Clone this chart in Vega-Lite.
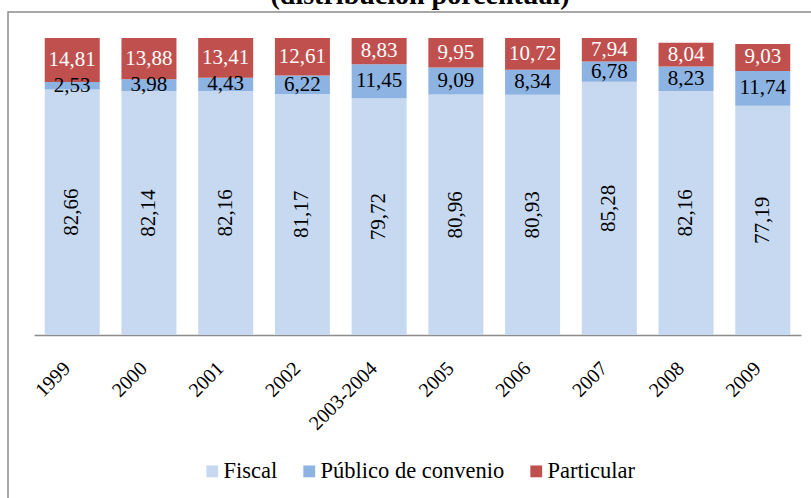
{
  "$schema": "https://vega.github.io/schema/vega-lite/v6.json",
  "autosize": {"type": "none"},
  "padding": {"top": 12, "left": 8, "right": 0, "bottom": 0},
  "width": 824,
  "height": 500,
  "title": {"text": "(distribución porcentual)", "font": "Liberation Serif", "fontSize": 28, "fontWeight": "bold", "color": "#000000", "anchor": "middle", "frame": "group", "offset": 2},
  "config": {
    "font": "Liberation Serif",
    "view": {"stroke": "#8c8c8c", "strokeWidth": 1.5},
    "legend": {"labelFont": "Liberation Serif"},
    "locale": {"number": {"decimal": ",", "thousands": ".", "grouping": [3], "currency": ["", " €"]}}
  },
  "data": {"values": [
    {"anio": "1999", "serie": "Fiscal", "k": 1, "v": 82.66},
    {"anio": "1999", "serie": "Público de convenio", "k": 2, "v": 2.53},
    {"anio": "1999", "serie": "Particular", "k": 3, "v": 14.81},
    {"anio": "2000", "serie": "Fiscal", "k": 1, "v": 82.14},
    {"anio": "2000", "serie": "Público de convenio", "k": 2, "v": 3.98},
    {"anio": "2000", "serie": "Particular", "k": 3, "v": 13.88},
    {"anio": "2001", "serie": "Fiscal", "k": 1, "v": 82.16},
    {"anio": "2001", "serie": "Público de convenio", "k": 2, "v": 4.43},
    {"anio": "2001", "serie": "Particular", "k": 3, "v": 13.41},
    {"anio": "2002", "serie": "Fiscal", "k": 1, "v": 81.17},
    {"anio": "2002", "serie": "Público de convenio", "k": 2, "v": 6.22},
    {"anio": "2002", "serie": "Particular", "k": 3, "v": 12.61},
    {"anio": "2003-2004", "serie": "Fiscal", "k": 1, "v": 79.72},
    {"anio": "2003-2004", "serie": "Público de convenio", "k": 2, "v": 11.45},
    {"anio": "2003-2004", "serie": "Particular", "k": 3, "v": 8.83},
    {"anio": "2005", "serie": "Fiscal", "k": 1, "v": 80.96},
    {"anio": "2005", "serie": "Público de convenio", "k": 2, "v": 9.09},
    {"anio": "2005", "serie": "Particular", "k": 3, "v": 9.95},
    {"anio": "2006", "serie": "Fiscal", "k": 1, "v": 80.93},
    {"anio": "2006", "serie": "Público de convenio", "k": 2, "v": 8.34},
    {"anio": "2006", "serie": "Particular", "k": 3, "v": 10.72},
    {"anio": "2007", "serie": "Fiscal", "k": 1, "v": 85.28},
    {"anio": "2007", "serie": "Público de convenio", "k": 2, "v": 6.78},
    {"anio": "2007", "serie": "Particular", "k": 3, "v": 7.94},
    {"anio": "2008", "serie": "Fiscal", "k": 1, "v": 82.16},
    {"anio": "2008", "serie": "Público de convenio", "k": 2, "v": 8.23},
    {"anio": "2008", "serie": "Particular", "k": 3, "v": 8.04},
    {"anio": "2009", "serie": "Fiscal", "k": 1, "v": 77.19},
    {"anio": "2009", "serie": "Público de convenio", "k": 2, "v": 11.74},
    {"anio": "2009", "serie": "Particular", "k": 3, "v": 9.03}
  ]},
  "transform": [
    {"stack": "v", "groupby": ["anio"], "sort": [{"field": "k", "order": "ascending"}], "as": ["v0", "v1"]},
    {"calculate": "(datum.v0 + datum.v1) / 2", "as": "vm"}
  ],
  "encoding": {
    "x": {
      "field": "anio", "type": "nominal", "sort": null,
      "scale": {"range": [26, 793], "paddingInner": 0.283, "paddingOuter": 0.14},
      "axis": {"title": null, "labelAngle": -45, "labelAlign": "right", "labelBaseline": "middle", "labelPadding": 30, "labelOffset": -5, "labelFont": "Liberation Serif", "labelFontSize": 20, "labelColor": "#000000", "ticks": false, "domainColor": "#8c8c8c", "domainWidth": 1.5, "offset": -177, "grid": false}
    }
  },
  "layer": [
    {
      "mark": {"type": "bar"},
      "encoding": {
        "y": {"field": "v0", "type": "quantitative", "scale": {"domain": [0, 100], "range": [323, 26], "nice": false, "zero": true}, "axis": null},
        "y2": {"field": "v1"},
        "color": {
          "field": "serie", "type": "nominal",
          "scale": {"domain": ["Fiscal", "Público de convenio", "Particular"], "range": ["#C6D9F1", "#8DB3E2", "#C0504D"]},
          "legend": {"orient": "none", "legendX": 193, "legendY": 448, "direction": "horizontal", "title": null, "symbolType": "square", "symbolSize": 140, "symbolStrokeWidth": 0, "labelFont": "Liberation Serif", "labelFontSize": 22.5, "labelColor": "#000000", "labelLimit": 400, "columnPadding": 20, "labelOffset": 0}
        }
      }
    },
    {
      "transform": [{"filter": "datum.serie === 'Fiscal'"}],
      "mark": {"type": "text", "angle": 270, "font": "Liberation Serif", "fontSize": 21, "color": "#000000"},
      "encoding": {"y": {"field": "vm", "type": "quantitative"}, "text": {"field": "v", "type": "quantitative", "format": ".2f"}}
    },
    {
      "transform": [{"filter": "datum.serie === 'Público de convenio'"}],
      "mark": {"type": "text", "font": "Liberation Serif", "fontSize": 21, "color": "#000000"},
      "encoding": {"y": {"field": "vm", "type": "quantitative"}, "text": {"field": "v", "type": "quantitative", "format": ".2f"}}
    },
    {
      "transform": [{"filter": "datum.serie === 'Particular'"}],
      "mark": {"type": "text", "font": "Liberation Serif", "fontSize": 21, "color": "#ffffff"},
      "encoding": {"y": {"field": "vm", "type": "quantitative"}, "text": {"field": "v", "type": "quantitative", "format": ".2f"}}
    }
  ]
}
